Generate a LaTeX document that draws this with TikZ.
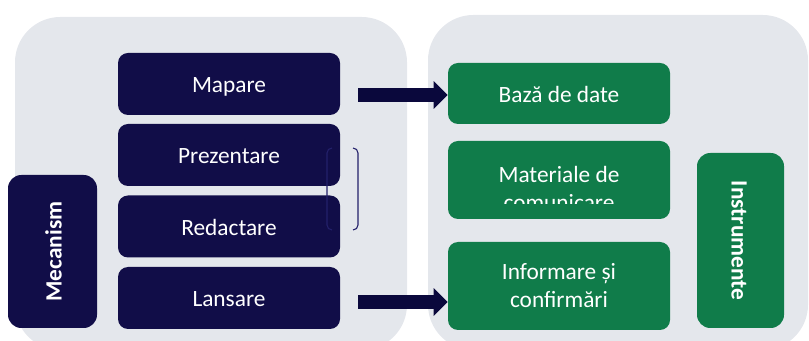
\documentclass[tikz,border=0pt]{standalone}
\usepackage{fontspec}
\setmainfont{Carlito}
\usetikzlibrary{arrows.meta}

\definecolor{panelgrey}{HTML}{E4E7EC}
\definecolor{navybox}{HTML}{110D48}
\definecolor{navyarrow}{HTML}{0A083C}
\definecolor{navyline}{HTML}{23206A}
\definecolor{greenbox}{HTML}{107C4A}

\tikzset{
  boxfont/.style={font=\fontsize{17.5}{21}\selectfont},
  stepbox/.style={fill=navybox, text=white, rounded corners=7.5pt, inner sep=0pt,
    minimum width=166.5pt, minimum height=46.5pt, align=center, boxfont},
  oneline/.style={text height=13.5pt, text depth=0pt},
  toolbox/.style={stepbox, fill=greenbox},
  sidebox/.style={stepbox, oneline, rounded corners=10pt, font=\fontsize{17.5}{21}\selectfont\bfseries},
  bigarrow/.style={draw=navyarrow, line width=10.5pt, -{Triangle[length=10.5pt, width=20pt]}},
  bracketline/.style={draw=navyline, line width=0.8pt},
}

\begin{document}
\begin{tikzpicture}[x=0.75pt, y=-0.75pt]
    \clip (0, 0) rectangle (809, 341);

    % Panels
    \fill[panelgrey, rounded corners=34pt] (15, 17) rectangle (407, 350);
    \fill[panelgrey, rounded corners=34pt] (428, 15) rectangle (808, 350);

    % Mecanism
    \node[stepbox, oneline] (mapare) at (229, 84) {Mapare};
    \node[stepbox, oneline] (prezentare) at (229, 155) {Prezentare};
    \node[stepbox, oneline] (redactare) at (229, 226.5) {Redactare};
    \node[stepbox, oneline] (lansare) at (229, 298) {Lansare};
    \node[sidebox, rotate=90, minimum width=114.75pt, minimum height=66.75pt] (mecanism) at (52.5, 251.5) {Mecanism};

    % Instrumente
    \node[toolbox, oneline, minimum height=45.75pt] (baza) at (559, 93.5) {Bază de date};
    \node[toolbox, minimum height=58.5pt] (materiale) at (559, 180) {};
    \begin{scope}
      \clip (448, 141) rectangle (670, 204);
      \node[align=center, text=white, boxfont] (materialetext) at (559, 188) {Materiale de\\comunicare};
    \end{scope}
    \node[toolbox, minimum height=66pt] (informare) at (559, 286) {Informare și\\confirmări};
    \node[sidebox, fill=greenbox, rotate=-90, minimum width=131.25pt, minimum height=65.25pt] (instrumente) at (740.5, 240.5) {Instrumente};

    % Brackets
    \draw[bracketline] (332, 148) to[out=180, in=90] (327, 153) -- (327, 225) to[out=-90, in=180] (332, 230);
    \draw[bracketline] (353, 148) to[out=0, in=90] (358, 153) -- (358, 225) to[out=-90, in=0] (353, 230);

    % Arrows
    \coordinate (mapstart) at (358, 95);
    \coordinate (lanstart) at (358, 302);
    \draw[bigarrow] (mapstart) -- (baza.west |- mapstart);
    \draw[bigarrow] (lanstart) -- (informare.west |- lanstart);
\end{tikzpicture}
\end{document}
